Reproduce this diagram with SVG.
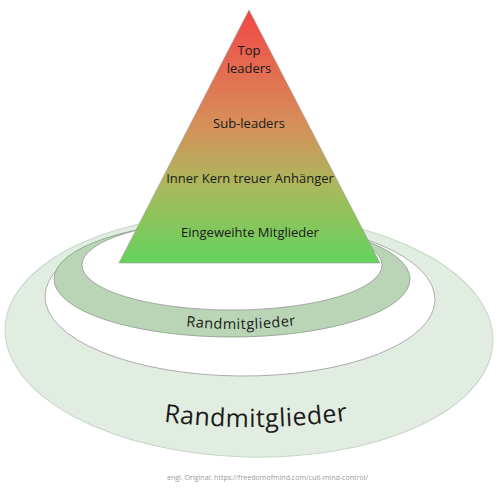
<svg xmlns="http://www.w3.org/2000/svg" width="500" height="495" viewBox="0 0 500 495">
<defs>
<linearGradient id="pyr" x1="0" y1="10" x2="0" y2="263" gradientUnits="userSpaceOnUse">
<stop offset="0" stop-color="#f24646"/>
<stop offset="0.45" stop-color="#d68f59"/>
<stop offset="0.7" stop-color="#a9b95c"/>
<stop offset="1" stop-color="#63d35c"/>
</linearGradient>
<path id="arcMid" d="M150,321 Q241,338 332,319"/>
<path id="arcOuter" d="M110,413 Q256,442 402,411"/>
<style>
.lbl{font-family:"Open Sans","Noto Sans",sans-serif;fill:#1a1a1a;text-anchor:middle}
.ring-outer{fill:#e1ede0;stroke:#c4d8c2;stroke-width:1}
.hole{fill:#ffffff;stroke:#8c8c8c;stroke-width:0.7}
.ring-mid{fill:#b9d5b6;stroke:#8a9a88;stroke-width:0.8}
</style>
</defs>
<rect width="500" height="495" fill="#ffffff"/>
<g id="ring-outer">
<ellipse class="ring-outer" cx="249" cy="335" rx="244" ry="122" transform="rotate(1.5 249 335)"/>
<ellipse class="hole" cx="240" cy="298" rx="195" ry="78" transform="rotate(0.5 240 298)"/>
<text class="lbl" font-size="25" letter-spacing="0.5"><textPath href="#arcOuter" startOffset="50%">Randmitglieder</textPath></text>
</g>
<g id="ring-mid">
<ellipse class="ring-mid" cx="232" cy="279" rx="178" ry="58"/>
<ellipse class="hole" cx="232" cy="265" rx="150" ry="45"/>
<text class="lbl" font-size="14.5" letter-spacing="0.5"><textPath href="#arcMid" startOffset="50%">Randmitglieder</textPath></text>
</g>
<g id="pyramid">
<polygon points="249,10 380,263 119,263" fill="url(#pyr)" stroke="#9a9a9a" stroke-width="0.6"/>
<text class="lbl" font-size="13" x="249" y="55">Top</text>
<text class="lbl" font-size="13" x="249" y="73">leaders</text>
<text class="lbl" font-size="13" x="249" y="128">Sub-leaders</text>
<text class="lbl" font-size="13" x="250" y="183">Inner Kern treuer Anhänger</text>
<text class="lbl" font-size="13" x="250" y="237">Eingeweihte Mitglieder</text>
</g>
<text x="267.5" y="480" font-family="'Open Sans','Noto Sans',sans-serif" font-size="7.5" fill="#9a9a9a" text-anchor="middle" textLength="201" lengthAdjust="spacingAndGlyphs">engl. Original: https://freedomofmind.com/cult-mind-control/</text>
</svg>
